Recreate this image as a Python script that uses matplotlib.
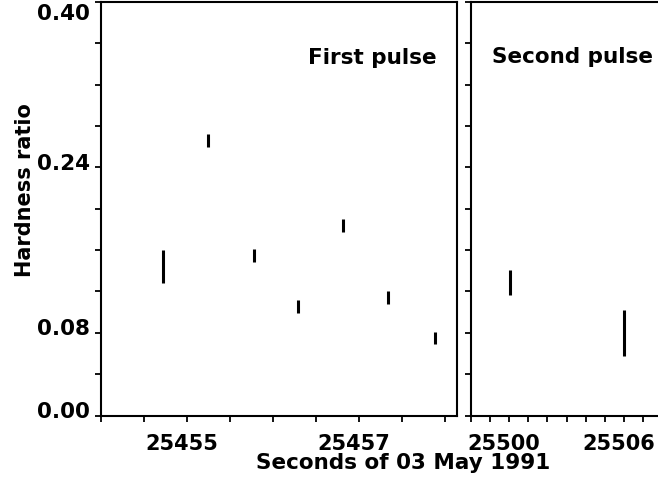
import matplotlib
matplotlib.use("Agg")
import matplotlib.pyplot as plt
from matplotlib.ticker import MultipleLocator, FixedLocator, NullFormatter

# first pulse: time (s), hardness ratio, half error
t1 = [25454.72, 25455.24, 25455.78, 25456.29, 25456.81, 25457.34, 25457.88]
hr1 = [0.144, 0.266, 0.155, 0.105, 0.184, 0.114, 0.075]
err1 = [0.016, 0.0065, 0.0063, 0.0063, 0.0065, 0.0063, 0.006]

# second pulse
t2 = [25500.04, 25506.0]
hr2 = [0.129, 0.080]
err2 = [0.012, 0.022]

y_ticks = [0.00, 0.04, 0.08, 0.12, 0.16, 0.20, 0.24, 0.28, 0.32, 0.36, 0.40]
y_labeled = [0.00, 0.08, 0.24, 0.40]
x1_labeled = [25455, 25457]
x2_labeled = [25500, 25506]

plt.rcParams["font.family"] = "DejaVu Sans"
plt.rcParams["font.weight"] = "bold"
FS = 15.5
PX = 0.72  # points per pixel at dpi 100

fig = plt.figure(figsize=(6.58, 4.85), dpi=100)
W, H = 658, 485
ax1 = fig.add_axes([101 / W, 1 - 416.5 / H, (456.7 - 101) / W, (416.5 - 3) / H])
ax2 = fig.add_axes([470.7 / W, 1 - 416.5 / H, (658 - 470.7) / W, (416.5 - 3) / H])


def style(ax):
    for s in ax.spines.values():
        s.set_linewidth(1.5)
    ax.tick_params(which="both", direction="out", length=4, width=1.3)
    ax.set_ylim(0, 0.40)
    ax.yaxis.set_major_locator(FixedLocator(y_ticks))
    ax.xaxis.set_major_formatter(NullFormatter())
    ax.yaxis.set_major_formatter(NullFormatter())


def xlabels(ax, vals):
    for v in vals:
        ax.annotate(str(v), xy=(v, 0), xycoords=("data", "axes fraction"),
                    xytext=(-5 * PX, -33.5 * PX), textcoords="offset points",
                    ha="center", va="baseline", fontsize=15, fontweight="bold")


style(ax1)
style(ax2)

ax1.errorbar(t1, hr1, yerr=err1, fmt="none", ecolor="black", elinewidth=2.2, capsize=0)
ax1.set_xlim(25454, 25458.136)
ax1.xaxis.set_major_locator(MultipleLocator(0.5))
xlabels(ax1, x1_labeled)

# y tick labels, baseline sitting on the tick (top one pushed down)
for v in y_labeled:
    dy = -17 if v == 0.40 else -1.5
    ax1.annotate(f"{v:.2f}", xy=(0, v), xycoords=("axes fraction", "data"),
                 xytext=(-11 * PX, dy * PX), textcoords="offset points",
                 ha="right", va="baseline", fontsize=FS, fontweight="bold")

ax2.errorbar(t2, hr2, yerr=err2, fmt="none", ecolor="black", elinewidth=2.2, capsize=0)
ax2.set_xlim(25498, 25507.76)
ax2.xaxis.set_major_locator(MultipleLocator(1))
ax2.spines["right"].set_visible(False)
xlabels(ax2, x2_labeled)

fig.text(372.5 / W, 1 - 64 / H, "First pulse", ha="center", va="baseline",
         fontsize=FS, fontweight="bold")
fig.text(573 / W, 1 - 63 / H, "Second pulse", ha="center", va="baseline",
         fontsize=FS, fontweight="bold")

fig.text(403 / W, 1 - 469.5 / H, "Seconds of 03 May 1991", ha="center", va="baseline",
         fontsize=FS, fontweight="bold")
fig.text(31.5 / W, 1 - 190 / H, "Hardness ratio", ha="center", va="baseline",
         rotation=90, rotation_mode="anchor", fontsize=15, fontweight="bold")

fig.savefig("out.png", dpi=100)
